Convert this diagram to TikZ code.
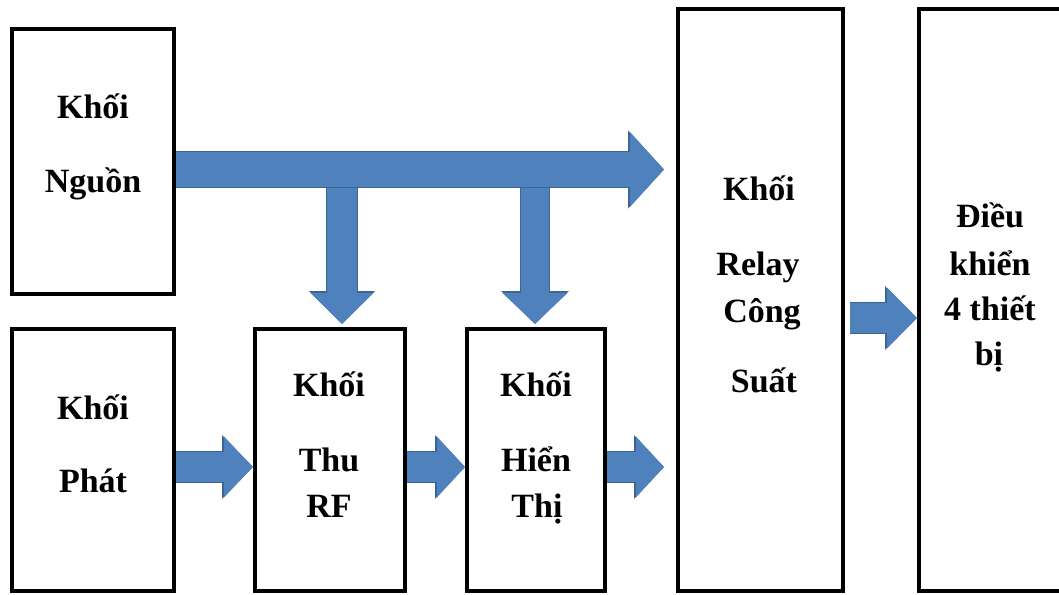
\documentclass[tikz,border=0pt]{standalone}
\usepackage{fontspec}
\setmainfont{Liberation Serif}
\usetikzlibrary{arrows.meta}
\definecolor{bfill}{HTML}{4F81BD}
\definecolor{bdark}{HTML}{3B6596}
\tikzset{
  blockbox/.style={draw=black, line width=4pt, rectangle, inner sep=0pt, fill=white},
  lbl/.style={font=\bfseries\fontsize{34}{40}\selectfont, inner sep=0pt, anchor=base, text=black},
  blk/.code n args={3}{%
    \pgfmathsetmacro\blkA{#1+2}%
    \pgfmathsetmacro\blkB{#2+3}%
    \pgfmathsetmacro\blkC{#3+2}%
    \edef\blkopts{preaction={draw=bdark,line width=\blkA pt,-{Triangle[width=\blkB pt,length=\blkC pt]}},draw=bfill,line width=#1pt,line cap=butt,-{Triangle[width=#2pt,length=#3pt]}}%
    \expandafter\tikzset\expandafter{\blkopts}%
  }
}
\begin{document}
\begin{tikzpicture}[x=1pt,y=-1pt]
\useasboundingbox (0,0) rectangle (1059,594);
\clip (0,0) rectangle (1059,594);
\fill[white] (0,0) rectangle (1059,594);

% boxes
\node[blockbox, minimum width=162pt, minimum height=265pt] (nguon) at (93,161.5) {};
\node[blockbox, minimum width=162pt, minimum height=262pt] (phat) at (93,460) {};
\node[blockbox, minimum width=150pt, minimum height=262pt] (thu) at (330,460) {};
\node[blockbox, minimum width=138pt, minimum height=262pt] (hien) at (536,460) {};
\node[blockbox, minimum width=165pt, minimum height=582pt] (relay) at (760.5,300) {};
\node[blockbox, minimum width=161pt, minimum height=582pt] (dieu) at (999.5,300) {};

% labels
\node[lbl] (t1) at (93,118) {Khối};
\node[lbl] (t2) at (93,192) {Nguồn};
\node[lbl] (t3) at (93,419) {Khối};
\node[lbl] (t4) at (93,492) {Phát};
\node[lbl] (t5) at (329,396) {Khối};
\node[lbl] (t6) at (329,471) {Thu};
\node[lbl] (t7) at (329,517) {RF};
\node[lbl] (t8) at (536,396) {Khối};
\node[lbl] (t9) at (536,471) {Hiển};
\node[lbl] (t10) at (537,517) {Thị};
\node[lbl] (t11) at (759,200) {Khối};
\node[lbl] (t12) at (758,275) {Relay};
\node[lbl] (t13) at (762,322) {Công};
\node[lbl] (t14) at (764,392) {Suất};
\node[lbl] (t15) at (990,227) {Điều};
\node[lbl] (t16) at (990,275) {khiển};
\node[lbl] (t17) at (990,320) {4 thiết};
\node[lbl] (t18) at (989,365) {bị};

% arrows
\coordinate (tipA) at (664,169.5);
\coordinate (tipB) at (342,324);
\coordinate (tipC) at (535,324);
\coordinate (yl) at (0,467);
\coordinate (yr) at (0,318);
\draw[blk={30}{61}{31}] (tipB |- tipA) -- (tipB);
\draw[blk={28}{63}{31}] (tipC |- tipA) -- (tipC);
\draw[blk={35}{73}{34}] (nguon.east |- tipA) -- (tipA);
\draw[blk={30}{59}{29}] (phat.east |- yl) -- (thu.west |- yl);
\draw[blk={30}{59}{28}] (thu.east |- yl) -- (hien.west |- yl);
\draw[blk={30}{59}{28}] (hien.east |- yl) -- ([xshift=-12pt]relay.west |- yl);
\draw[blk={30}{59}{30}] ([xshift=5pt]relay.east |- yr) -- (dieu.west |- yr);
\end{tikzpicture}
\end{document}
